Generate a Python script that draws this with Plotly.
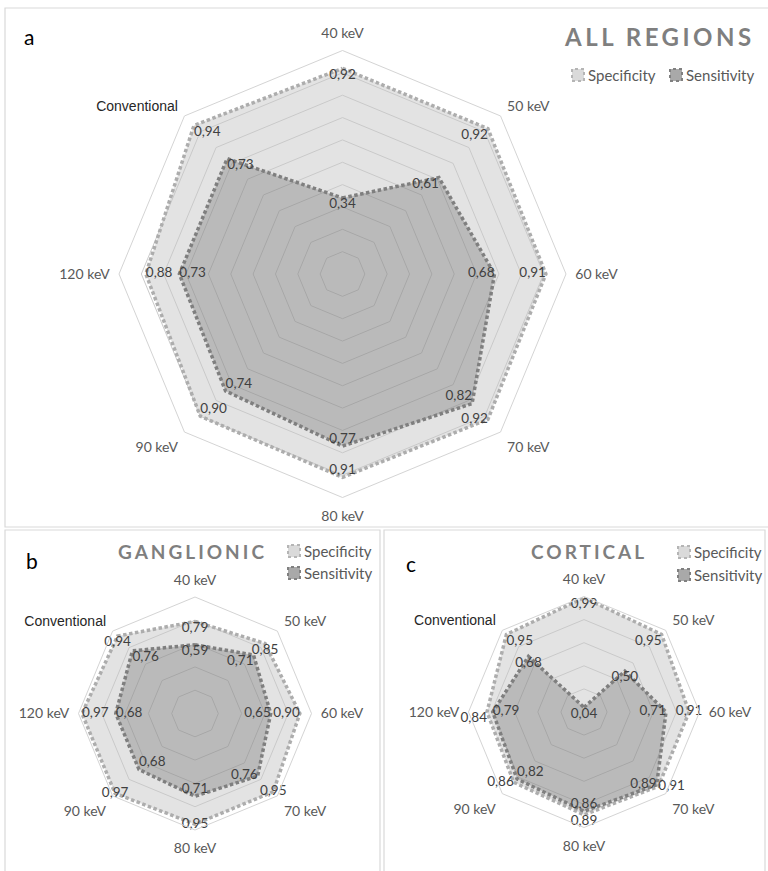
import plotly.graph_objects as go

# Energy levels around each radar
categories = ["40 keV", "50 keV", "60 keV", "70 keV", "80 keV", "90 keV", "120 keV", "Conventional"]
category_labels = ["40 keV", "50 keV", "60 keV", "70 keV", "80 keV", "90 keV", "120 keV",
                   '<span style="font-family:Liberation Sans;font-size:14px;fill:#262626">Conventional</span>']

# a: all regions
all_spec = [0.92, 0.92, 0.91, 0.92, 0.91, 0.90, 0.88, 0.94]
all_sens = [0.34, 0.61, 0.68, 0.82, 0.77, 0.74, 0.73, 0.73]
# b: ganglionic
gang_spec = [0.79, 0.85, 0.90, 0.95, 0.95, 0.97, 0.97, 0.94]
gang_sens = [0.59, 0.71, 0.65, 0.76, 0.71, 0.68, 0.68, 0.76]
# c: cortical
cort_spec = [0.99, 0.95, 0.91, 0.91, 0.89, 0.86, 0.84, 0.95]
cort_sens = [0.04, 0.50, 0.71, 0.89, 0.86, 0.82, 0.79, 0.68]

W, H = 768, 871
FONT = "Lato"
SPEC_FILL, SPEC_LINE = "rgba(200,200,200,0.5)", "#adadad"
SENS_FILL, SENS_LINE = "rgba(60,60,60,0.24)", "#7f7f7f"
DASH = "3.5px,2.5px"


def px(x):
    return x / W


def py(y):
    return 1 - y / H


panels = [
    dict(sub="polar", spec=all_spec, sens=all_sens, dtick=0.1,
         cx=342.5, cy=274, r=223.5,
         spec_pos=["bottom center", "bottom left", "middle left", "middle left",
                   "top center", "top right", "middle right", "bottom right"],
         sens_pos=["bottom center", "bottom left", "middle left", "top left",
                   "top center", "top right", "middle right", "bottom right"]),
    dict(sub="polar2", spec=gang_spec, sens=gang_sens, dtick=0.2,
         cx=195, cy=713.5, r=116.5,
         spec_pos=["bottom center", "bottom center", "middle left", "middle center",
                   "middle center", "middle center", "middle right", "bottom center"],
         sens_pos=["bottom center", "bottom left", "middle left", "middle left",
                   "top center", "top right", "middle right", "bottom right"]),
    dict(sub="polar3", spec=cort_spec, sens=cort_sens, dtick=0.2,
         cx=584, cy=712, r=115.5,
         spec_pos=["bottom center", "bottom left", "middle center", "middle right",
                   "bottom center", "middle left", "bottom left", "bottom right"],
         sens_pos=["bottom center", "bottom center", "middle left", "middle left",
                   "top center", "top right", "middle right", "bottom center"]),
]

fig = go.Figure()


def closed(vals):
    return list(vals) + [vals[0]]


for p in panels:
    theta = closed(categories)
    fig.add_trace(go.Scatterpolar(
        r=closed(p["spec"]), theta=theta, subplot=p["sub"], mode="lines",
        fill="toself", fillcolor=SPEC_FILL, name="Specificity",
        line=dict(color=SPEC_LINE, width=3.5, dash=DASH), showlegend=False))
    fig.add_trace(go.Scatterpolar(
        r=closed(p["sens"]), theta=theta, subplot=p["sub"], mode="lines",
        fill="toself", fillcolor=SENS_FILL, name="Sensitivity",
        line=dict(color=SENS_LINE, width=3.5, dash=DASH), showlegend=False))
    for vals, pos in ((p["spec"], p["spec_pos"]), (p["sens"], p["sens_pos"])):
        fig.add_trace(go.Scatterpolar(
            r=vals, theta=categories, subplot=p["sub"], mode="text",
            texttemplate="%{r:.2f}", textposition=pos,
            textfont=dict(family=FONT, size=13.5, color="#404040"),
            showlegend=False, hoverinfo="skip"))

layout_polars = {}
for p in panels:
    layout_polars[p["sub"]] = dict(
        domain=dict(x=[px(p["cx"] - p["r"]), px(p["cx"] + p["r"])],
                    y=[py(p["cy"] + p["r"]), py(p["cy"] - p["r"])]),
        bgcolor="rgba(0,0,0,0)",
        gridshape="linear",
        angularaxis=dict(type="category", categoryarray=categories,
                         tickmode="array", tickvals=categories, ticktext=category_labels,
                         direction="clockwise", rotation=90,
                         showgrid=False, showline=True, linecolor="#d4d4d4", linewidth=1,
                         ticks="outside", ticklen=6, tickcolor="rgba(0,0,0,0)",
                         tickfont=dict(family=FONT, size=14, color="#595959")),
        radialaxis=dict(range=[0, 1], dtick=p["dtick"], tick0=0, showticklabels=False,
                        ticks="", showline=False, gridcolor="#cbcbcb", gridwidth=1),
    )

shapes = [
    dict(type="rect", xref="paper", yref="paper", x0=px(5), x1=1.01, y0=py(527), y1=py(8),
         line=dict(color="#d9d9d9", width=1.2), layer="below"),
    dict(type="rect", xref="paper", yref="paper", x0=px(5), x1=px(380), y0=-0.01, y1=py(530),
         line=dict(color="#d9d9d9", width=1.2), layer="below"),
    dict(type="rect", xref="paper", yref="paper", x0=px(384), x1=px(765), y0=-0.01, y1=py(530),
         line=dict(color="#d9d9d9", width=1.2), layer="below"),
]

annotations = []


def text(x, y, s, size, color, xanchor="left", weight="normal", family=FONT):
    annotations.append(dict(x=px(x), y=py(y), xref="paper", yref="paper", text=s,
                            showarrow=False, xanchor=xanchor, yanchor="middle",
                            font=dict(family=family, size=size, color=color, weight=weight)))


def legend_item(x, y, label, fill, line):
    shapes.append(dict(type="rect", xref="paper", yref="paper",
                       x0=px(x), x1=px(x + 12), y0=py(y + 6), y1=py(y - 6),
                       fillcolor=fill, line=dict(color=line, width=2, dash="dot")))
    text(x + 14, y, label, 15, "#595959")


# panel letters
text(22, 37, "a", 21, "#000000")
text(24, 560, "b", 21, "#000000")
text(404, 563, "c", 21, "#000000")

# panel titles
text(757, 37, '<span style="letter-spacing:3.5px">ALL REGIONS</span>', 24, "#7f7f7f",
     xanchor="right", weight="bold")
text(192, 551, '<span style="letter-spacing:3px">GANGLIONIC</span>', 19, "#7f7f7f",
     xanchor="center", weight="bold")
text(589, 551, '<span style="letter-spacing:3px">CORTICAL</span>', 19, "#7f7f7f",
     xanchor="center", weight="bold")

# legends
legend_item(572, 75, "Specificity", "#dadada", "#b5b5b5")
legend_item(670, 75, "Sensitivity", "#a9a9a9", "#808080")
legend_item(288, 551, "Specificity", "#dadada", "#b5b5b5")
legend_item(288, 573, "Sensitivity", "#a9a9a9", "#808080")
legend_item(678, 552, "Specificity", "#dadada", "#b5b5b5")
legend_item(678, 575, "Sensitivity", "#a9a9a9", "#808080")

fig.update_layout(
    width=W, height=H, margin=dict(l=0, r=0, t=0, b=0),
    paper_bgcolor="white", plot_bgcolor="white",
    separators=",.",
    showlegend=False,
    shapes=shapes, annotations=annotations,
    **layout_polars,
)

fig.write_html("out.html")
